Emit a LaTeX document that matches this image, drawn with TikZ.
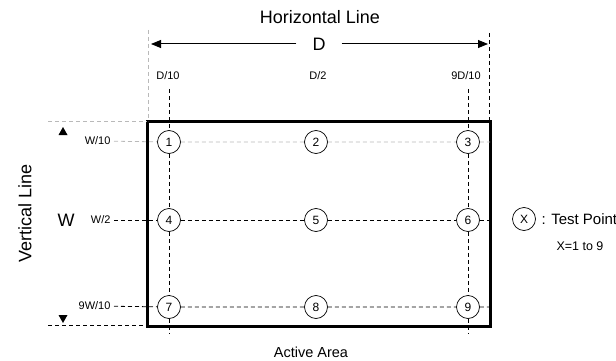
\documentclass[tikz,border=0pt]{standalone}
\usepackage{fontspec}
\setmainfont{Liberation Sans}
\usetikzlibrary{arrows.meta}

\begin{document}
\begin{tikzpicture}[x=1pt,y=-1pt,
	tpoint/.style={circle,draw,line width=0.7pt,minimum size=23pt,inner sep=0pt,font=\fontsize{12}{13}\selectfont},
	bigtxt/.style={font=\fontsize{18}{20}\selectfont},
	smalltxt/.style={font=\fontsize{11}{12}\selectfont},
	blk/.style={line width=0.8pt,dash pattern=on 4pt off 3pt},
	gry/.style={line width=0.8pt,gray!55,dash pattern=on 4pt off 3pt},
	dimarrow/.style={line width=1pt,-{Triangle[length=10pt,width=8pt]}}]
	\useasboundingbox (0,0) rectangle (616,361);

	% active area
	\node[draw,line width=3pt,minimum width=343pt,minimum height=205pt,inner sep=0pt,outer sep=0pt] (area) at (318.5,223.5) {};

	% test points
	\node[tpoint] (p1) at (169,142) {1};
	\node[tpoint] (p2) at (316,142) {2};
	\node[tpoint] (p3) at (468,142) {3};
	\node[tpoint] (p4) at (169,220) {4};
	\node[tpoint] (p5) at (316,220) {5};
	\node[tpoint] (p6) at (468,220) {6};
	\node[tpoint] (p7) at (169,307) {7};
	\node[tpoint] (p8) at (316,307) {8};
	\node[tpoint] (p9) at (468,307) {9};

	% labels
	\node[bigtxt] (hline) at (320,17) {Horizontal Line};
	\node[bigtxt,inner xsep=16pt] (dd) at (319,44) {D};
	\node[smalltxt] (d10) at (168,76) {D/10};
	\node[smalltxt] (d2) at (318,76) {D/2};
	\node[smalltxt] (d910) at (466,76) {9D/10};
	\node[bigtxt,rotate=90] (vline) at (25,213) {Vertical Line};
	\node[bigtxt] (ww) at (66,220) {W};
	\node[smalltxt,anchor=east] (w10) at (114,141) {W/10};
	\node[smalltxt,anchor=east] (w2) at (114,220) {W/2};
	\node[smalltxt,anchor=east] (w910) at (114,306) {9W/10};
	\node[font=\fontsize{14.5}{16}\selectfont] (aa) at (311,352) {Active Area};

	% legend
	\node[tpoint] (px) at (524,219) {X};
	\node[font=\fontsize{15}{17}\selectfont,anchor=west] (tp) at (538,219) {: Test Point};
	\node[font=\fontsize{12.5}{14}\selectfont] (xr) at (580,246) {X=1 to 9};

	% free ends
	\coordinate (dl) at (151,44);
	\coordinate (dr) at (488,44);
	\coordinate (c1t) at (169,89);
	\coordinate (c1b) at (169,333);
	\coordinate (c3t) at (468,89);
	\coordinate (c3b) at (468,333);
	\coordinate (el) at (148,30);
	\coordinate (er) at (489,33);
	\coordinate (et) at (48,121);
	\coordinate (eb) at (48,325);

	% dimension D
	\draw[dimarrow] (dd) -- (dl);
	\draw[dimarrow] (dd) -- (dr);
	\draw[gry] (el) -- (el |- area.north);
	\draw[blk] (er) -- (er |- area.north);

	% dimension W
	\draw[gry] (et) -- (et -| area.west);
	\draw[blk] (eb) -- (eb -| area.west);
	\fill (63,127) -- (58.5,135) -- (67.5,135) -- cycle;
	\fill (63,323) -- (58.5,315) -- (67.5,315) -- cycle;

	% grid lines
	\draw[gry] (w10) -- (p1) -- (p2) -- (p3) -- (p3 -| area.east);
	\draw[blk] (w2) -- (p4) -- (p5) -- (p6) -- (p6 -| area.east);
	\draw[blk] (w910) -- (p7) -- (p8) -- (p9) -- (p9 -| area.east);
	\draw[blk] (c1t) -- (p1) -- (p4) -- (p7) -- (c1b);
	\draw[blk] (c3t) -- (p3) -- (p6) -- (p9) -- (c3b);

\end{tikzpicture}
\end{document}
